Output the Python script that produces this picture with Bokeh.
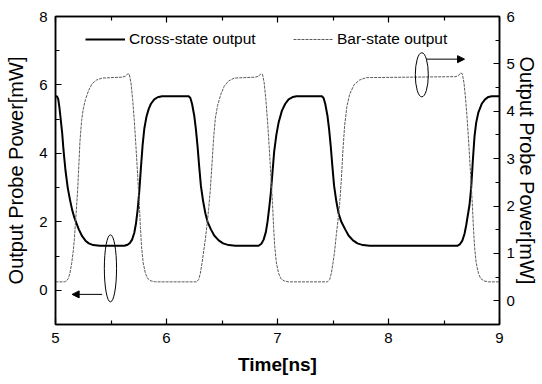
from bokeh.plotting import figure
from bokeh.models import (Range1d, LinearAxis, FixedTicker, Legend, LegendItem,
                          Arrow, NormalHead)
from bokeh.embed import file_html
from bokeh.resources import INLINE

# ---- data ----
cross_t = [5.000, 5.015, 5.025, 5.035, 5.045, 5.060, 5.072, 5.090, 5.110, 5.130,
           5.150, 5.170, 5.190, 5.210, 5.240, 5.270, 5.300, 5.340, 5.400, 5.620,
           5.650, 5.670, 5.690, 5.710, 5.725, 5.740, 5.755, 5.770, 5.785, 5.800,
           5.820, 5.840, 5.860, 5.890, 5.920, 5.960, 6.200, 6.215, 6.230, 6.250,
           6.265, 6.280, 6.295, 6.310, 6.330, 6.350, 6.370, 6.400, 6.430, 6.470,
           6.510, 6.560, 6.620, 6.830, 6.855, 6.875, 6.895, 6.910, 6.925, 6.940,
           6.955, 6.970, 6.990, 7.010, 7.040, 7.070, 7.100, 7.140, 7.170, 7.400,
           7.415, 7.430, 7.450, 7.465, 7.480, 7.495, 7.510, 7.530, 7.550, 7.575,
           7.610, 7.640, 7.680, 7.720, 7.770, 7.830, 8.620, 8.645, 8.665, 8.685,
           8.700, 8.715, 8.730, 8.745, 8.760, 8.775, 8.790, 8.810, 8.840, 8.870,
           8.900, 8.930, 9.000]
cross_p = [5.67, 5.66, 5.58, 5.35, 5.05, 4.60, 4.10, 3.50, 3.00, 2.65,
           2.35, 2.12, 1.95, 1.78, 1.58, 1.45, 1.37, 1.32, 1.30, 1.30,
           1.33, 1.38, 1.48, 1.68, 1.95, 2.35, 2.90, 3.60, 4.25, 4.72,
           5.08, 5.30, 5.45, 5.58, 5.64, 5.67, 5.67, 5.62, 5.45, 5.10,
           4.70, 4.20, 3.60, 3.05, 2.60, 2.25, 2.00, 1.78, 1.60, 1.46,
           1.37, 1.32, 1.30, 1.30, 1.36, 1.48, 1.70, 2.00, 2.40, 2.85,
           3.45, 4.05, 4.55, 4.90, 5.25, 5.45, 5.58, 5.65, 5.67, 5.67,
           5.62, 5.45, 5.10, 4.70, 4.20, 3.60, 3.05, 2.60, 2.25, 2.00,
           1.78, 1.60, 1.46, 1.37, 1.32, 1.30, 1.30, 1.35, 1.45, 1.65,
           1.90, 2.20, 2.50, 3.00, 3.80, 4.50, 4.90, 5.20, 5.45, 5.58,
           5.65, 5.67, 5.67]

bar_t = [5.000, 5.080, 5.100, 5.115, 5.130, 5.145, 5.160, 5.170, 5.180, 5.190,
         5.200, 5.210, 5.220, 5.235, 5.250, 5.270, 5.300, 5.330, 5.370, 5.420,
         5.600, 5.630, 5.650, 5.665, 5.680, 5.695, 5.710, 5.725, 5.740, 5.755,
         5.765, 5.775, 5.790, 5.810, 5.830, 5.860, 5.900, 6.270, 6.290, 6.305,
         6.320, 6.335, 6.350, 6.365, 6.380, 6.395, 6.410, 6.425, 6.440, 6.460,
         6.490, 6.520, 6.560, 6.610, 6.800, 6.830, 6.850, 6.865, 6.880, 6.895,
         6.910, 6.925, 6.940, 6.955, 6.965, 6.975, 6.990, 7.010, 7.030, 7.060,
         7.100, 7.450, 7.470, 7.485, 7.500, 7.515, 7.530, 7.545, 7.560, 7.575,
         7.590, 7.605, 7.625, 7.650, 7.690, 7.740, 7.800, 8.600, 8.630, 8.650,
         8.665, 8.680, 8.695, 8.710, 8.725, 8.740, 8.755, 8.765, 8.775, 8.790,
         8.810, 8.830, 8.860, 8.900, 9.000]
bar_p = [0.40, 0.40, 0.42, 0.47, 0.58, 0.78, 1.05, 1.30, 1.65, 2.00,
         2.35, 2.85, 3.35, 3.80, 4.05, 4.25, 4.45, 4.58, 4.66, 4.70,
         4.72, 4.74, 4.79, 4.78, 4.60, 4.25, 3.80, 3.25, 2.65, 2.05,
         1.55, 1.15, 0.80, 0.58, 0.47, 0.42, 0.40, 0.40, 0.45, 0.58,
         0.80, 1.05, 1.30, 1.60, 1.95, 2.35, 2.90, 3.45, 3.85, 4.12,
         4.36, 4.53, 4.64, 4.70, 4.72, 4.74, 4.79, 4.78, 4.60, 4.25,
         3.80, 3.25, 2.65, 2.05, 1.55, 1.15, 0.80, 0.58, 0.47, 0.42,
         0.40, 0.40, 0.45, 0.58, 0.80, 1.05, 1.40, 1.70, 2.05, 2.55,
         3.20, 3.70, 4.10, 4.36, 4.56, 4.66, 4.71, 4.73, 4.75, 4.81,
         4.79, 4.60, 4.25, 3.80, 3.25, 2.65, 2.05, 1.55, 1.15, 0.80,
         0.58, 0.47, 0.42, 0.40, 0.40]

x_ticks = [5, 6, 7, 8, 9]
x_minor = [5.5, 6.5, 7.5, 8.5]
left_ticks = [0, 2, 4, 6, 8]
left_minor = [-1, 1, 3, 5, 7]
right_ticks = [0, 1, 2, 3, 4, 5, 6]
right_minor = [-0.5, 0.5, 1.5, 2.5, 3.5, 4.5, 5.5]

x_label = "Time[ns]"
left_label = "Output Probe Power[mW]"
right_label = "Output Probe Power[mW]"
cross_name = "Cross-state output"
bar_name = "Bar-state output"

# annotation marks (ellipses + arrows), in data units
ell_left = dict(x=[5.495], y=[0.64], w=[0.11], h=[1.96])
ell_right = dict(x=[8.30], y=[4.77], w=[0.117], h=[0.93])
arrow_left = dict(x0=5.42, y0=-0.12, x1=5.15, y1=-0.12)
arrow_right = dict(x0=8.34, y0=5.10, x1=8.685, y1=5.10)

FONT = "'Liberation Sans', Arial, sans-serif"
TICKFONT = "'Liberation Sans Narrow', 'Liberation Sans', Arial, sans-serif"

p = figure(width=542, height=384, output_backend="svg", toolbar_location=None,
           x_range=Range1d(5, 9), y_range=Range1d(-1, 8),
           min_border_left=55, min_border_right=43, min_border_top=16,
           min_border_bottom=60, background_fill_color="white",
           border_fill_color="white")
p.extra_y_ranges = {"right": Range1d(-0.5, 6)}
p.grid.visible = False
p.outline_line_color = "black"
p.outline_line_width = 1.5


def style(ax, ticks, minor, font_size="15px"):
    ax.ticker = FixedTicker(ticks=ticks, minor_ticks=minor)
    ax.major_tick_in = 6
    ax.major_tick_out = 0
    ax.minor_tick_in = 4
    ax.minor_tick_out = 0
    ax.axis_line_width = 1.5
    ax.major_tick_line_width = 1.2
    ax.minor_tick_line_width = 1.2
    ax.axis_line_color = "black"
    ax.major_label_text_font = TICKFONT
    ax.major_label_text_font_size = font_size
    ax.major_label_text_color = "black"
    ax.axis_label_text_color = "black"
    ax.axis_label_text_font = FONT
    ax.axis_label_text_font_style = "normal"


xa = p.xaxis[0]
style(xa, x_ticks, x_minor)
xa.major_label_standoff = 8
xa.axis_label = x_label
xa.axis_label_text_font_size = "19px"
xa.axis_label_text_font_style = "bold"
xa.axis_label_standoff = 8

ya = p.yaxis[0]
style(ya, left_ticks, left_minor)
ya.major_label_standoff = 8
ya.axis_label = left_label
ya.axis_label_text_font_size = "20px"
ya.axis_label_standoff = 9

ra = LinearAxis(y_range_name="right")
style(ra, right_ticks, right_minor)
ra.major_label_standoff = 7
ra.axis_label = right_label
ra.axis_label_text_font_size = "20px"
ra.axis_label_standoff = -2
p.add_layout(ra, "right")

ta = LinearAxis()
style(ta, x_ticks, x_minor, font_size="1px")
ta.major_label_text_color = None
ta.major_label_standoff = 0
p.add_layout(ta, "above")

r_cross = p.line(cross_t, cross_p, line_color="black", line_width=2)
r_bar = p.line(bar_t, bar_p, line_color="#5a5a5a", line_width=1,
               line_dash="3 1", y_range_name="right")

p.ellipse(x=ell_left["x"], y=ell_left["y"], width=ell_left["w"],
          height=ell_left["h"], fill_color=None, line_color="black", line_width=1)
p.ellipse(x=ell_right["x"], y=ell_right["y"], width=ell_right["w"],
          height=ell_right["h"], fill_color=None, line_color="black", line_width=1,
          y_range_name="right")

p.add_layout(Arrow(end=NormalHead(size=7, fill_color="black", line_color="black"),
                   x_start=arrow_left["x0"], y_start=arrow_left["y0"],
                   x_end=arrow_left["x1"], y_end=arrow_left["y1"],
                   line_color="black", line_width=1))
p.add_layout(Arrow(end=NormalHead(size=7, fill_color="black", line_color="black"),
                   x_start=arrow_right["x0"], y_start=arrow_right["y0"],
                   x_end=arrow_right["x1"], y_end=arrow_right["y1"],
                   line_color="black", line_width=1, y_range_name="right"))


def make_legend(item_label, renderer, loc):
    lg = Legend(items=[LegendItem(label=item_label, renderers=[renderer])],
                location=loc, orientation="horizontal",
                glyph_width=40, glyph_height=14, label_standoff=4,
                label_height=14, padding=0, margin=0, spacing=0,
                border_line_color=None, background_fill_alpha=0,
                label_text_font=FONT, label_text_font_size="15.5px",
                label_text_color="black")
    return lg


p.add_layout(make_legend(cross_name, r_cross, (30, 276)), "center")
p.add_layout(make_legend(bar_name, r_bar, (238, 276)), "center")

open("out.html", "w").write(file_html(p, INLINE))
